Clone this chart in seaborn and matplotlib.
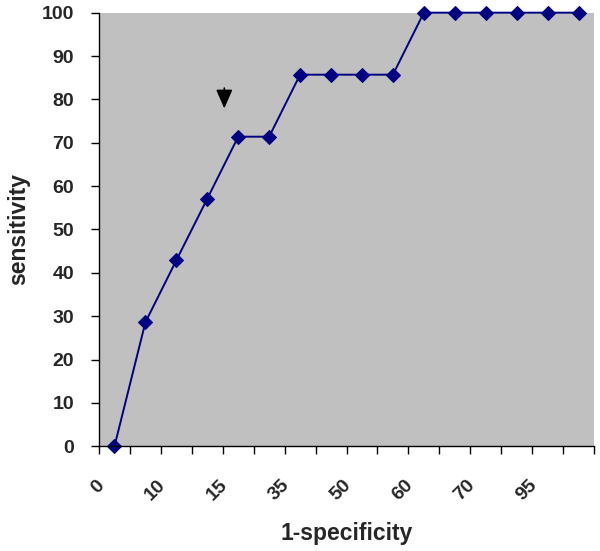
import numpy as np
import pandas as pd
import matplotlib
matplotlib.use("Agg")
import matplotlib.pyplot as plt
import matplotlib.transforms as mtransforms
import seaborn as sns

sensitivity = [0, 28.6, 42.9, 57.1, 71.4, 71.4, 85.7, 85.7, 85.7, 85.7,
               100, 100, 100, 100, 100, 100]
tick_labels = ["0", "10", "15", "35", "50", "60", "70", "95"]

df = pd.DataFrame({"pos": np.arange(len(sensitivity)), "sens": sensitivity})

sns.set_style("white")
plt.rcParams["font.family"] = ["Liberation Sans", "DejaVu Sans"]

fig = plt.figure(figsize=(6, 5.51), dpi=100)
ax = fig.add_axes([0.165, 0.19, 0.825, 0.787])
ax.set_facecolor("#c0c0c0")

sns.lineplot(data=df, x="pos", y="sens", ax=ax, color="#000080", marker="D",
             markersize=7, markeredgecolor="#000080", linewidth=1.4, clip_on=False)

# flecha que marca el punto de corte
ax.annotate("", xy=(3.55, 77.9), xytext=(3.55, 82.6),
            arrowprops=dict(arrowstyle="-|>,head_length=1.15,head_width=0.5",
                            color="black", lw=1.2, shrinkA=0, shrinkB=0))

n = len(sensitivity)
ax.set_yticks(range(0, 101, 10))
ax.set_xticks(np.arange(-0.5, n, 1))
ax.set_xticklabels([])
ax.set_xlim(-0.5, n - 0.5)
ax.set_ylim(0, 100)

# etiquetas cada dos categorias, algo desplazadas a la izquierda como en Excel
trans = mtransforms.blended_transform_factory(ax.transData, ax.transAxes)
trans = trans + mtransforms.ScaledTranslation(0, -22 / 72, fig.dpi_scale_trans)
for i, lab in enumerate(tick_labels):
    ax.text(2 * i - 0.62, 0, lab, transform=trans, rotation=45, ha="right",
            va="top", rotation_mode="anchor", fontsize=14, fontweight="bold")

ax.tick_params(axis="x", length=6, width=1, color="black",
               direction="out", bottom=True)
ax.tick_params(axis="y", length=6, width=1, color="black", direction="out",
               left=True, labelsize=14, pad=12)
for lab in ax.get_yticklabels():
    lab.set_fontweight("bold")

for s in ["top", "right"]:
    ax.spines[s].set_visible(False)
for s in ["left", "bottom"]:
    ax.spines[s].set_color("black")
    ax.spines[s].set_linewidth(1)

ax.set_xlabel("1-specificity", fontsize=16.5, fontweight="bold")
ax.xaxis.set_label_coords(0.5, -0.175)
ax.set_ylabel("sensitivity", fontsize=16.5, fontweight="bold", labelpad=8)

plt.savefig("out.png", dpi=100)
